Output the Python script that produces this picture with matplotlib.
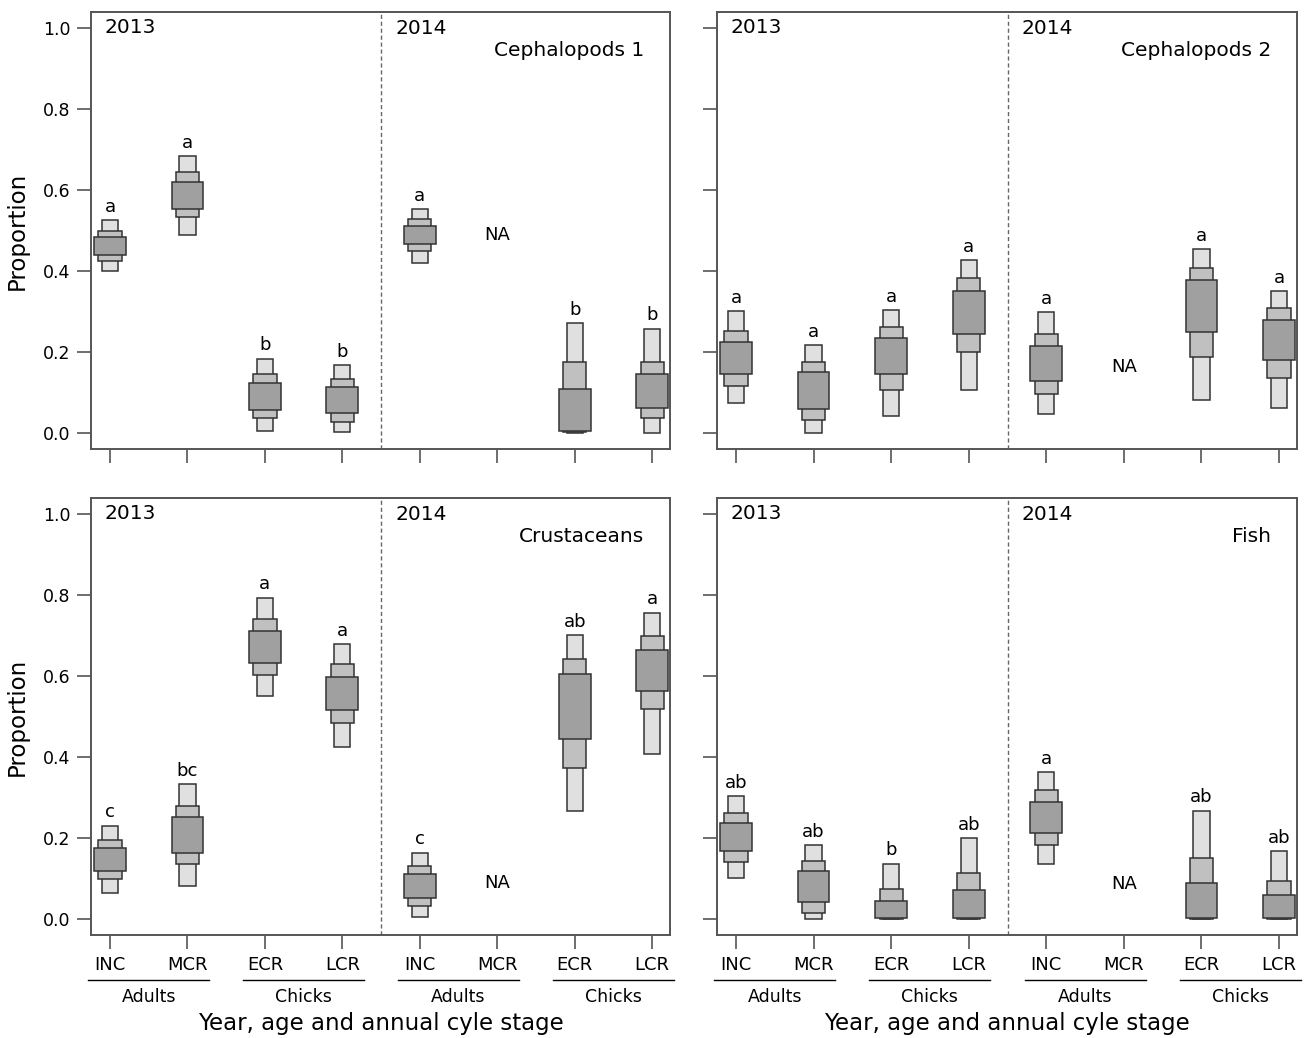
import numpy as np
import matplotlib.pyplot as plt

nan = np.nan

stages = ['INC', 'MCR', 'ECR', 'LCR', 'INC', 'MCR', 'ECR', 'LCR']
groups = ['Adults', 'Chicks', 'Adults', 'Chicks']
titles = ['Cephalopods 1', 'Cephalopods 2', 'Crustaceans', 'Fish']

# credible intervals (outer = 95%, mid = 75%, inner = 50%) for each stage, NA = nan
ceph1_outer_hi = [0.525, 0.684, 0.184, 0.168, 0.554, nan, 0.271, 0.258]
ceph1_mid_hi = [0.499, 0.644, 0.147, 0.134, 0.528, nan, 0.176, 0.176]
ceph1_inner_hi = [0.483, 0.620, 0.123, 0.113, 0.512, nan, 0.110, 0.145]
ceph1_inner_lo = [0.440, 0.553, 0.058, 0.050, 0.467, nan, 0.006, 0.063]
ceph1_mid_lo = [0.424, 0.533, 0.036, 0.028, 0.450, nan, 0.003, 0.036]
ceph1_outer_lo = [0.400, 0.490, 0.004, 0.002, 0.419, nan, 0.001, 0.001]
ceph1_letters = ['a', 'a', 'b', 'b', 'a', '', 'b', 'b']

ceph2_outer_hi = [0.301, 0.217, 0.304, 0.427, 0.298, nan, 0.454, 0.351]
ceph2_mid_hi = [0.251, 0.176, 0.261, 0.382, 0.245, nan, 0.408, 0.309]
ceph2_inner_hi = [0.226, 0.150, 0.235, 0.351, 0.216, nan, 0.377, 0.280]
ceph2_inner_lo = [0.146, 0.060, 0.145, 0.245, 0.128, nan, 0.250, 0.180]
ceph2_mid_lo = [0.115, 0.031, 0.107, 0.200, 0.097, nan, 0.189, 0.137]
ceph2_outer_lo = [0.073, 0.001, 0.042, 0.107, 0.047, nan, 0.081, 0.063]
ceph2_letters = ['a', 'a', 'a', 'a', 'a', '', 'a', 'a']

crust_outer_hi = [0.231, 0.334, 0.794, 0.680, 0.164, nan, 0.701, 0.757]
crust_mid_hi = [0.196, 0.280, 0.741, 0.629, 0.132, nan, 0.643, 0.698]
crust_inner_hi = [0.175, 0.251, 0.712, 0.598, 0.112, nan, 0.605, 0.664]
crust_inner_lo = [0.119, 0.164, 0.632, 0.516, 0.051, nan, 0.444, 0.564]
crust_mid_lo = [0.100, 0.135, 0.603, 0.484, 0.032, nan, 0.373, 0.519]
crust_outer_lo = [0.064, 0.082, 0.550, 0.425, 0.005, nan, 0.268, 0.407]
crust_letters = ['c', 'bc', 'a', 'a', 'c', '', 'ab', 'a']

fish_outer_hi = [0.304, 0.183, 0.137, 0.199, 0.363, nan, 0.268, 0.167]
fish_mid_hi = [0.263, 0.143, 0.074, 0.114, 0.318, nan, 0.151, 0.095]
fish_inner_hi = [0.238, 0.119, 0.045, 0.071, 0.288, nan, 0.090, 0.059]
fish_inner_lo = [0.167, 0.042, 0.002, 0.002, 0.212, nan, 0.002, 0.002]
fish_mid_lo = [0.142, 0.015, 0.001, 0.001, 0.183, nan, 0.001, 0.001]
fish_outer_lo = [0.101, 0.001, 0.000, 0.000, 0.135, nan, 0.000, 0.000]
fish_letters = ['ab', 'ab', 'b', 'ab', 'a', '', 'ab', 'ab']

# NA label heights
na_y = [0.49, 0.164, 0.089, 0.087]

panels = [
    (ceph1_outer_lo, ceph1_mid_lo, ceph1_inner_lo, ceph1_inner_hi, ceph1_mid_hi, ceph1_outer_hi, ceph1_letters),
    (ceph2_outer_lo, ceph2_mid_lo, ceph2_inner_lo, ceph2_inner_hi, ceph2_mid_hi, ceph2_outer_hi, ceph2_letters),
    (crust_outer_lo, crust_mid_lo, crust_inner_lo, crust_inner_hi, crust_mid_hi, crust_outer_hi, crust_letters),
    (fish_outer_lo, fish_mid_lo, fish_inner_lo, fish_inner_hi, fish_mid_hi, fish_outer_hi, fish_letters),
]

frame_col = '#555555'
edge_col = '#333333'

fig = plt.figure(figsize=(13.06, 10.38), dpi=100)
rects = [
    [0.0697, 0.5674, 0.4433, 0.4207],
    [0.5490, 0.5674, 0.4440, 0.4207],
    [0.0697, 0.0992, 0.4433, 0.4207],
    [0.5490, 0.0992, 0.4440, 0.4207],
]

x = np.arange(1, 9)

for i, (rect, data) in enumerate(zip(rects, panels)):
    o_lo, m_lo, i_lo, i_hi, m_hi, o_hi = [np.array(d) for d in data[:6]]
    letters = data[6]
    ax = fig.add_axes(rect)

    # 95%, 75%, 50% boxes, drawn outer first
    ax.bar(x, o_hi - o_lo, bottom=o_lo, width=0.21, color='#e0e0e0', edgecolor=edge_col, linewidth=1.1, zorder=2)
    ax.bar(x, m_hi - m_lo, bottom=m_lo, width=0.30, color='#c0c0c0', edgecolor=edge_col, linewidth=1.1, zorder=3)
    ax.bar(x, i_hi - i_lo, bottom=i_lo, width=0.41, color='#a0a0a0', edgecolor=edge_col, linewidth=1.1, zorder=4)

    for xi, top, lab in zip(x, o_hi, letters):
        if lab:
            ax.annotate(lab, (xi, top), xytext=(0, 3), textcoords='offset points',
                        ha='center', va='bottom', fontsize=13)
    ax.text(6, na_y[i], 'NA', ha='center', va='center', fontsize=13)

    ax.axvline(4.5, color='#666666', linestyle=(0, (3, 2)), linewidth=1)
    ax.set_xlim(0.755, 8.23)
    ax.set_ylim(-0.0395, 1.039)
    ax.set_yticks([0, 0.2, 0.4, 0.6, 0.8, 1.0])
    ax.set_xticks(x)

    for sp in ax.spines.values():
        sp.set_color(frame_col)
        sp.set_linewidth(1.4)
    ax.tick_params(axis='both', direction='out', length=10, width=1.2, color=frame_col,
                   labelsize=12.5, pad=5)

    ax.text(0.024, 0.965, '2013', transform=ax.transAxes, ha='left', va='center', fontsize=14.5)
    ax.text(4.68, 1.0, '2014', ha='left', va='center', fontsize=14.5)
    ax.text(0.955, 0.913, titles[i], transform=ax.transAxes, ha='right', va='center', fontsize=14.5)

    if i % 2 == 0:
        ax.set_yticklabels(['0.0', '0.2', '0.4', '0.6', '0.8', '1.0'])
        ax.set_ylabel('Proportion', fontsize=16.5, labelpad=10)
    else:
        ax.set_yticklabels([])

    if i < 2:
        ax.set_xticklabels([])
    else:
        ax.set_xticklabels(stages, fontsize=13)
        # group lines under each pair of stages
        tr = ax.get_xaxis_transform()
        for g, name in enumerate(groups):
            a, b = 2 * g + 1, 2 * g + 2
            ax.plot([a - 0.28, b + 0.28], [-0.103, -0.103], color='black', linewidth=1,
                    transform=tr, clip_on=False)
            ax.text((a + b) / 2, -0.141, name, transform=tr, ha='center', va='center', fontsize=12.5)
        ax.text(0.5, -0.203, 'Year, age and annual cyle stage', transform=ax.transAxes,
                ha='center', va='center', fontsize=16.5)

plt.savefig('out.png', dpi=100)
plt.close()
